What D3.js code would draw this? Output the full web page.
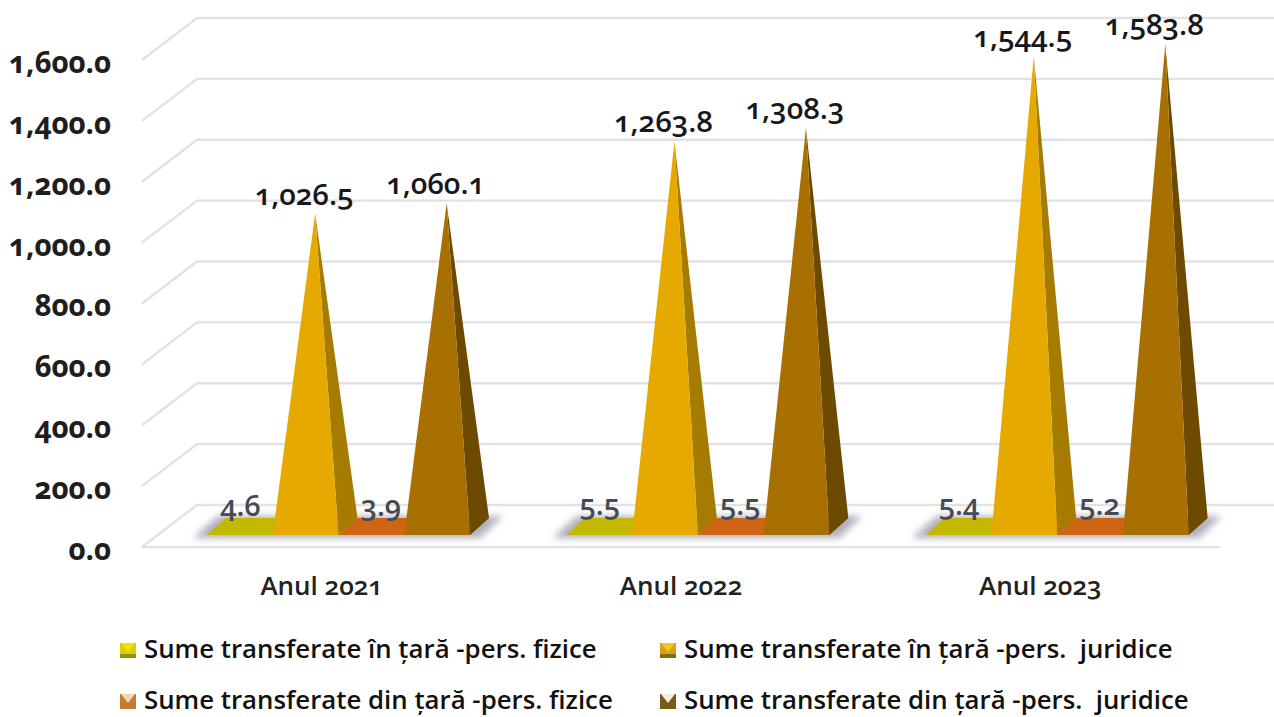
<!DOCTYPE html>
<html>
<head>
<meta charset="utf-8">
<style>
  body { margin: 0; background: #fff; }
  svg text { font-family: "Open Sans", "Noto Sans", sans-serif; font-variant-numeric: oldstyle-nums; white-space: pre; }
</style>
<script src="https://cdn.jsdelivr.net/npm/d3@7"></script>
</head>
<body>
<div id="container"></div>
<script>
const years = ['Anul 2021', 'Anul 2022', 'Anul 2023'];
const seriesNames = [
  'Sume transferate în țară -pers. fizice',
  'Sume transferate în țară -pers.  juridice',
  'Sume transferate din țară -pers. fizice',
  'Sume transferate din țară -pers.  juridice'
];
const inTaraFizice = [4.6, 5.5, 5.4];
const inTaraJuridice = [1026.5, 1263.8, 1544.5];
const dinTaraFizice = [3.9, 5.5, 5.2];
const dinTaraJuridice = [1060.1, 1308.3, 1583.8];
const tickValues = [0, 200, 400, 600, 800, 1000, 1200, 1400, 1600];

const frontColors = ['#c4b800', '#e5a900', '#cf6512', '#a87000'];
const sideColors = ['#a89c00', '#a67c00', '#a85010', '#6e4a00'];
const legendColors = ['#dccf00', '#d9a21c', '#c67a34', '#77591c'];
const legendTops = ['#f0e400', '#f0c820', '#f3d8b8', '#f4f0e0'];
const legendStrips = ['#9a9010', '#8a6a10', null, null];

const allSeries = [inTaraFizice, inTaraJuridice, dinTaraFizice, dinTaraJuridice];

const width = 1274, height = 717;
const plotLeft = 142, plotRight = 1220;
const depthX = 55, depthY = 42;      // wall offset
const barDX = 19, barDY = 17;        // pyramid base depth
const labelShift = [-9, -11, 0, -11]; // data labels sit left of the apex, except the orange ones

const svg = d3.select('#container').append('svg')
  .attr('width', width).attr('height', height)
  .style('display', 'block');

const defs = svg.append('defs');
defs.append('filter').attr('id', 'soft')
  .attr('x', '-10%').attr('y', '-60%').attr('width', '120%').attr('height', '220%')
  .append('feGaussianBlur').attr('stdDeviation', 3.5);

const y = d3.scaleLinear().domain([0, 1600]).range([547, 60]);
const x0 = d3.scaleBand().domain(years).range([plotLeft, plotRight]);
const x1 = d3.scaleBand().domain(d3.range(4)).range([65, 328]);

// grid: wall lines, the zero line also has the front edge of the floor
const grid = svg.append('g').attr('fill', 'none').attr('stroke', '#e2e2e5').attr('stroke-width', 2.4);
grid.selectAll('path').data(tickValues).enter().append('path')
  .attr('d', d => {
    const yy = y(d);
    return `M${plotLeft},${yy}L${plotLeft + depthX},${yy - depthY}L${plotRight + depthX},${yy - depthY}`;
  });
grid.append('path').attr('d', `M${plotLeft},${y(0)}L${plotRight},${y(0)}`);

// y axis
const axis = svg.append('g')
  .attr('transform', 'translate(111,0)')
  .call(d3.axisLeft(y).tickValues(tickValues).tickFormat(d3.format(',.1f')).tickSize(0).tickPadding(0));
axis.select('.domain').remove();
axis.selectAll('text')
  .attr('font-size', 29.5).attr('font-weight', 700).attr('fill', '#1e1e1e')
  .attr('dy', '0.42em')
  .style('font-family', '"Open Sans"');

// category labels
svg.append('g').selectAll('text').data(years).enter().append('text')
  .attr('x', d => x0(d) + x0.bandwidth() / 2)
  .attr('y', 595)
  .attr('text-anchor', 'middle')
  .attr('font-size', 26).attr('font-weight', 600).attr('fill', '#222')
  .text(d => d);

// floor shadows
const baseY = y(0) - 12;
svg.append('g').selectAll('path').data(years).enter().append('path')
  .attr('d', d => {
    const l = x0(d) + x1(0), r = x0(d) + x1(3) + x1.bandwidth();
    return `M${l - 14},${baseY + 3}L${l + barDX - 8},${baseY - barDY - 2}L${r + barDX + 14},${baseY - barDY - 2}L${r + 10},${baseY + 3}Z`;
  })
  .attr('fill', '#b0b0be')
  .attr('filter', 'url(#soft)');

// pyramids
const gBars = svg.append('g');
years.forEach((yr, i) => {
  allSeries.forEach((vals, s) => {
    const v = vals[i];
    const l = x0(yr) + x1(s), r = l + x1.bandwidth();
    const apexX = (l + r) / 2 + barDX / 2;
    const apexY = y(v) - 21;
    const g = gBars.append('g');
    g.append('path')
      .attr('d', `M${l},${baseY}L${r},${baseY}L${r + barDX},${baseY - barDY}L${l + barDX},${baseY - barDY}Z`)
      .attr('fill', frontColors[s]);
    if (v > 100) {
      g.append('path')
        .attr('d', `M${r},${baseY}L${r + barDX},${baseY - barDY}L${apexX},${apexY}Z`)
        .attr('fill', sideColors[s]);
      g.append('path')
        .attr('d', `M${l},${baseY}L${r},${baseY}L${apexX},${apexY}Z`)
        .attr('fill', frontColors[s]);
    }
  });
});

// data labels, drawn after all pyramids
const gLabels = svg.append('g');
years.forEach((yr, i) => {
  allSeries.forEach((vals, s) => {
    const v = vals[i];
    const l = x0(yr) + x1(s);
    const big = v > 100;
    gLabels.append('text')
      .attr('x', l + x1.bandwidth() / 2 + barDX / 2 + labelShift[s])
      .attr('y', y(v) - 20 - 10)
      .attr('text-anchor', 'middle')
      .attr('font-size', big ? 29.5 : 29)
      .attr('font-weight', 600)
      .attr('fill', big ? '#16181c' : '#464a55')
      .text(d3.format(',.1f')(v));
  });
});

// legend
const legendX = [120, 660], legendY = [658, 709];
const legend = svg.append('g').selectAll('g').data(seriesNames).enter().append('g')
  .attr('transform', (d, i) => `translate(${legendX[i % 2]},${legendY[Math.floor(i / 2)]})`);
legend.append('rect')
  .attr('x', 0).attr('y', -15).attr('width', 16).attr('height', 15)
  .attr('fill', (d, i) => legendColors[i]);
legend.append('path')
  .attr('d', 'M1,-15L15,-15L8,-6Z')
  .attr('fill', (d, i) => legendTops[i]);
legend.filter((d, i) => legendStrips[i]).append('rect')
  .attr('x', 0).attr('y', -4).attr('width', 16).attr('height', 4)
  .attr('fill', d => legendStrips[seriesNames.indexOf(d)]);
legend.append('text')
  .attr('x', 24).attr('y', 0)
  .attr('font-size', 25.8).attr('font-weight', 600).attr('fill', '#111')
  .text(d => d);
</script>
</body>
</html>
